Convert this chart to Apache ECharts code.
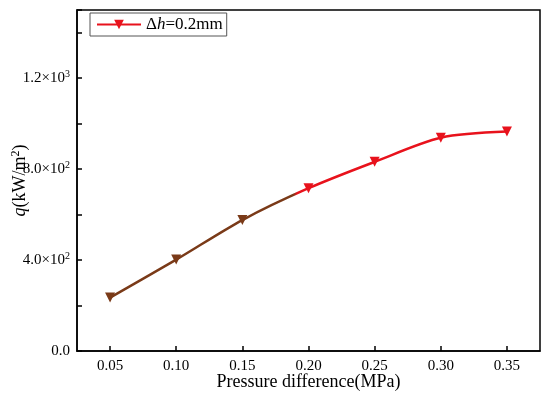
<!DOCTYPE html>
<html><head><meta charset="utf-8">
<script src="https://cdn.jsdelivr.net/npm/echarts@6/dist/echarts.min.js"></script>
<style>html,body{margin:0;padding:0;background:#fff}#c{width:550px;height:397px}</style>
</head><body><div id="c"></div>
<script>
const xValues = [0.05, 0.10, 0.15, 0.20, 0.25, 0.30, 0.35];
const qValues = [235, 402, 576, 716, 832, 938, 965];
const xTicks = [0.05, 0.10, 0.15, 0.20, 0.25, 0.30, 0.35];
const yTickMantissa = {0: '0.0', 400: '4.0×10', 800: '8.0×10', 1200: '1.2×10'};
const yTickExp = {0: '', 400: '2', 800: '2', 1200: '3'};
const seriesName = 'Δh=0.2mm';
const colorSwitchX = 0.19;

const font = '"Liberation Serif","Times New Roman",serif';
const brown = '#7a3a18', red = '#e8121c';
const chart = echarts.init(document.getElementById('c'));
const option = {
  animation: false,
  grid: {left: 77, right: 10, top: 10, bottom: 46, outerBoundsMode: 'none', containLabel: false,
         show: true, borderColor: '#000', borderWidth: 1.5, backgroundColor: 'transparent'},
  legend: {
    left: 90, top: 13, padding: [3, 4, 3, 6], itemWidth: 44, itemHeight: 12,
    borderColor: '#555', borderWidth: 1, borderRadius: 0,
    data: [{name: seriesName, itemStyle: {color: red}, lineStyle: {color: red}}],
    formatter: () => '{a|Δ}{i|h}{a|=0.2mm}',
    textStyle: {rich: {
      a: {fontFamily: font, fontSize: 17, color: '#000'},
      i: {fontFamily: font, fontSize: 17, fontStyle: 'italic', color: '#000'}
    }}
  },
  xAxis: {
    type: 'value', min: 0.025, max: 0.375,
    name: 'Pressure difference(MPa)', nameLocation: 'middle', nameGap: 22, nameMoveOverlap: false,
    nameTextStyle: {fontFamily: font, fontSize: 18, color: '#000', verticalAlign: 'top'},
    axisLine: {lineStyle: {color: '#000', width: 1.5}},
    axisTick: {inside: true, length: 5, customValues: xTicks, lineStyle: {color: '#000', width: 1.5}},
    axisLabel: {customValues: xTicks, formatter: v => v.toFixed(2), fontFamily: font, fontSize: 15, color: '#000', margin: 8},
    splitLine: {show: false}
  },
  yAxis: {
    type: 'value', min: 0, max: 1500, interval: 400,
    name: '{i|q}{a|(kW/m}{s|2}{a|)}', nameLocation: 'middle', nameGap: 47, nameMoveOverlap: false,
    nameTextStyle: {rich: {
      a: {fontFamily: font, fontSize: 18, color: '#000'},
      i: {fontFamily: font, fontSize: 18, fontStyle: 'italic', color: '#000'},
      s: {fontFamily: font, fontSize: 12, color: '#000', verticalAlign: 'top', padding: [0, 0, 8, 0]}
    }},
    axisLine: {lineStyle: {color: '#000', width: 1.5}},
    axisTick: {inside: true, length: 5, lineStyle: {color: '#000', width: 1.5}},
    minorTick: {show: true, splitNumber: 2, length: 5, lineStyle: {color: '#000', width: 1.5}},
    axisLabel: {
      formatter: v => yTickMantissa[v] === undefined ? '' : (yTickExp[v] ? '{a|' + yTickMantissa[v] + '}{s|' + yTickExp[v] + '}' : '{a|' + yTickMantissa[v] + '}'),
      rich: {
        a: {fontFamily: font, fontSize: 15, color: '#000'},
        s: {fontFamily: font, fontSize: 10, color: '#000', verticalAlign: 'top', padding: [0, 0, 7, 0]}
      },
      margin: 7, showMaxLabel: false
    },
    splitLine: {show: false}
  },
  series: [{
    name: seriesName, type: 'line', smooth: 0.3,
    data: xValues.map((x, i) => ({value: [x, qValues[i]], itemStyle: {color: x < colorSwitchX ? brown : red}})),
    symbol: 'triangle', symbolRotate: 180, symbolSize: 10,
    lineStyle: {width: 2.5, color: red},
    itemStyle: {color: red}
  }]
};
chart.setOption(option);
const px = chart.convertToPixel({gridIndex: 0}, [colorSwitchX, 0])[0];
chart.setOption({series: [{lineStyle: {color: new echarts.graphic.LinearGradient(0, 0, 550, 0, [
  {offset: 0, color: brown}, {offset: (px - 2) / 550, color: brown}, {offset: (px + 2) / 550, color: red}, {offset: 1, color: red}
], true)}}]});
</script></body></html>
